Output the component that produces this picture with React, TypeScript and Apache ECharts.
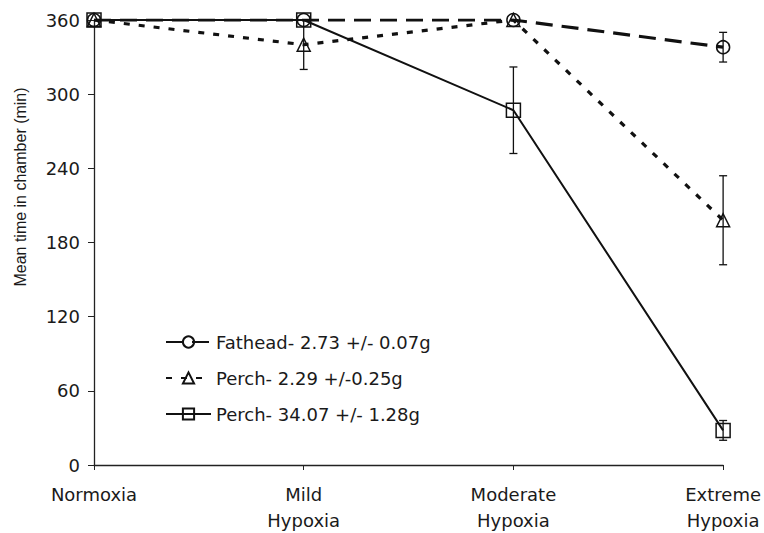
import React, { useEffect, useRef } from "react";
import * as echarts from "echarts";

const categories = ["Normoxia", "Mild\nHypoxia", "Moderate\nHypoxia", "Extreme\nHypoxia"];
const yTicks = [0, 60, 120, 180, 240, 300, 360];
const yTitle = "Mean time in chamber (min)";

const fatheadName = "Fathead- 2.73 +/- 0.07g";
const fatheadMean = [360, 360, 360, 338];
const fatheadErr = [0, 0, 0, 12];

const perchSmallName = "Perch- 2.29 +/-0.25g";
const perchSmallMean = [360, 340, 360, 198];
const perchSmallErr = [0, 20, 0, 36];

const perchLargeName = "Perch- 34.07 +/- 1.28g";
const perchLargeMean = [360, 360, 287, 28];
const perchLargeErr = [0, 0, 35, 8];

function errData(mean: number[], err: number[]) {
  return mean
    .map((m, i) => [i, m - err[i], Math.min(m + err[i], 360)])
    .filter((_, i) => err[i] > 0);
}

function errSeries(name: string, mean: number[], err: number[]) {
  return {
    type: "custom",
    name: name + "_err",
    data: errData(mean, err),
    encode: { x: 0, y: [1, 2] },
    z: 1,
    silent: true,
    renderItem: (params: any, api: any) => {
      const lo = api.coord([api.value(0), api.value(1)]);
      const hi = api.coord([api.value(0), api.value(2)]);
      const hw = 4;
      const style = { stroke: "#111", lineWidth: 1.3 };
      return {
        type: "group",
        children: [
          { type: "line", shape: { x1: lo[0], y1: lo[1], x2: hi[0], y2: hi[1] }, style },
          { type: "line", shape: { x1: lo[0] - hw, y1: lo[1], x2: lo[0] + hw, y2: lo[1] }, style },
          { type: "line", shape: { x1: hi[0] - hw, y1: hi[1], x2: hi[0] + hw, y2: hi[1] }, style },
        ],
      };
    },
  };
}

export default function App() {
  const ref = useRef<HTMLDivElement>(null);
  useEffect(() => {
    if (!ref.current) return;
    const chart = echarts.init(ref.current, undefined, { renderer: "svg" });
    const txt = { color: "#1a1a1a", fontSize: 18, fontFamily: "DejaVu Sans, sans-serif" };
    const markerStyle = { color: "rgba(255,255,255,0)", borderColor: "#111", borderWidth: 1.5 };
    chart.setOption({
      animation: false,
      backgroundColor: "#fff",
      grid: { left: 94, right: 40, top: 20, bottom: 63 },
      graphic: [
        {
          type: "text",
          x: 20,
          y: 187,
          rotation: Math.PI / 2,
          style: {
            text: yTitle,
            fill: "#1a1a1a",
            font: '16px "Liberation Sans", Arial, sans-serif',
            align: "center",
            verticalAlign: "middle",
          },
        },
      ],
      legend: {
        orient: "vertical",
        left: 160,
        top: 328,
        itemWidth: 45,
        itemHeight: 14,
        itemGap: 18,
        textStyle: { ...txt },
        data: [fatheadName, perchSmallName, perchLargeName],
      },
      xAxis: {
        type: "category",
        data: categories,
        boundaryGap: false,
        axisLine: { lineStyle: { color: "#222", width: 1.3 } },
        axisTick: { show: true, length: 5, lineStyle: { color: "#222" } },
        axisLabel: { ...txt, lineHeight: 26, margin: 16 },
      },
      yAxis: {
        type: "value",
        min: 0,
        max: 360,
        interval: 60,
        axisLine: { show: true, lineStyle: { color: "#222", width: 1.3 } },
        axisTick: { show: true, length: 6, lineStyle: { color: "#222" } },
        axisLabel: { ...txt, margin: 14, formatter: (v: number) => (yTicks.includes(v) ? String(v) : "") },
        splitLine: { show: false },
      },
      series: [
        errSeries(fatheadName, fatheadMean, fatheadErr),
        errSeries(perchSmallName, perchSmallMean, perchSmallErr),
        errSeries(perchLargeName, perchLargeMean, perchLargeErr),
        {
          type: "line",
          name: fatheadName,
          data: fatheadMean,
          symbol: "circle",
          symbolSize: 13,
          z: 3,
          lineStyle: { color: "#111", width: 3.2, type: [17, 9] },
          itemStyle: markerStyle,
        },
        {
          type: "line",
          name: perchSmallName,
          data: perchSmallMean,
          symbol: "triangle",
          symbolSize: 13,
          z: 3,
          lineStyle: { color: "#111", width: 3.2, type: [6, 9] },
          itemStyle: markerStyle,
        },
        {
          type: "line",
          name: perchLargeName,
          data: perchLargeMean,
          symbol: "rect",
          symbolSize: 14,
          z: 3,
          lineStyle: { color: "#111", width: 2 },
          itemStyle: markerStyle,
        },
      ],
    });
    return () => chart.dispose();
  }, []);
  return <div ref={ref} style={{ width: 764, height: 533, position: "absolute", left: 0, top: 0 }} />;
}
